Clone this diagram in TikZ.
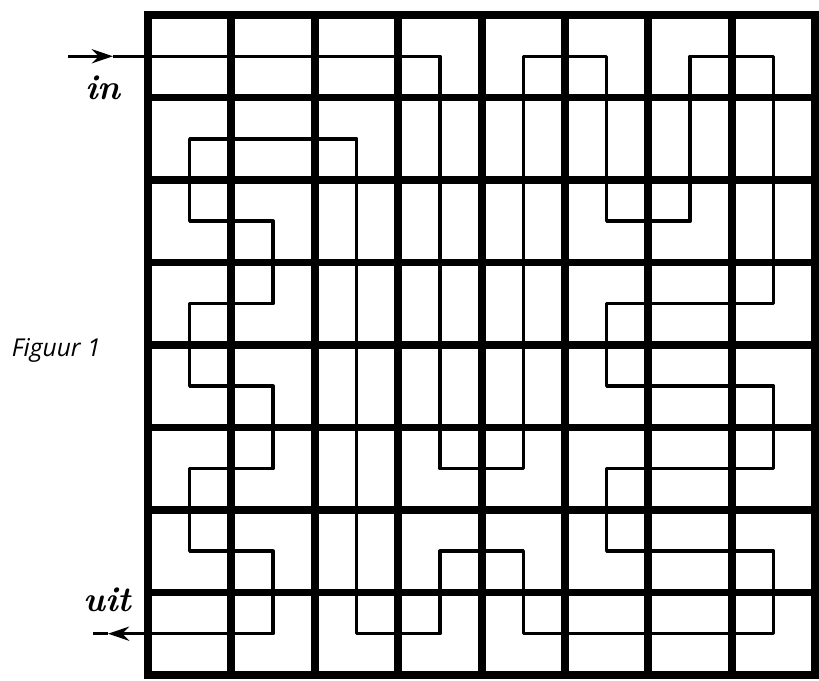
\documentclass[tikz,border=0pt]{standalone}
\usepackage{fontspec}
\newfontfamily\figfont{Open Sans}
\usetikzlibrary{arrows.meta}

\begin{document}
\begin{tikzpicture}[>={Stealth[length=12pt,width=8pt]}, x=1.668cm, y=-1.65cm,
    gridline/.style={line width=4.5pt},
    mazepath/.style={line width=2pt, line join=round},
    handlabel/.style={font=\fontsize{20}{22}\selectfont\bfseries\itshape}]
    % 0. Page size (same margins as the figure)
    \useasboundingbox (-1.775,-0.182) rectangle (8.046,8.073);

    % 1. Draw the Grid (8 x 8 cells)
    \foreach \i in {1,...,7} {
        \draw[gridline] (\i,0) -- (\i,8);
        \draw[gridline] (0,\i) -- (8,\i);
    }
    \draw[line width=5pt] (0,0) rectangle (8,8);

    % 2. Entry and exit points
    \coordinate (instart) at (-0.96,0.5);
    \coordinate (intip) at (-0.42,0.5);
    \coordinate (uittip) at (-0.48,7.5);
    \coordinate (uitend) at (-0.66,7.5);

    % 3. The route through the cell centres
    \draw[mazepath, ->] (instart) -- (intip);
    \draw[mazepath, ->] (intip) -- (3.5,0.5) -- (3.5,5.5) -- (4.5,5.5) -- (4.5,0.5)
        -- (5.5,0.5) -- (5.5,2.5) -- (6.5,2.5) -- (6.5,0.5) -- (7.5,0.5) -- (7.5,3.5)
        -- (5.5,3.5) -- (5.5,4.5) -- (7.5,4.5) -- (7.5,5.5) -- (5.5,5.5) -- (5.5,6.5)
        -- (7.5,6.5) -- (7.5,7.5) -- (4.5,7.5) -- (4.5,6.5) -- (3.5,6.5) -- (3.5,7.5)
        -- (2.5,7.5) -- (2.5,1.5) -- (0.5,1.5) -- (0.5,2.5) -- (1.5,2.5) -- (1.5,3.5)
        -- (0.5,3.5) -- (0.5,4.5) -- (1.5,4.5) -- (1.5,5.5) -- (0.5,5.5) -- (0.5,6.5)
        -- (1.5,6.5) -- (1.5,7.5) -- (uittip);
    \draw[mazepath] (uittip) -- (uitend);

    % 4. Labels
    \node[handlabel] (inlabel) at (-0.54,0.885) {in};
    \node[handlabel] (uitlabel) at (-0.49,7.09) {uit};
    \node[font={\figfont\fontsize{14}{16}\selectfont\itshape}, anchor=base] (figlabel) at (-1.10,4.145) {Figuur 1};
\end{tikzpicture}
\end{document}
